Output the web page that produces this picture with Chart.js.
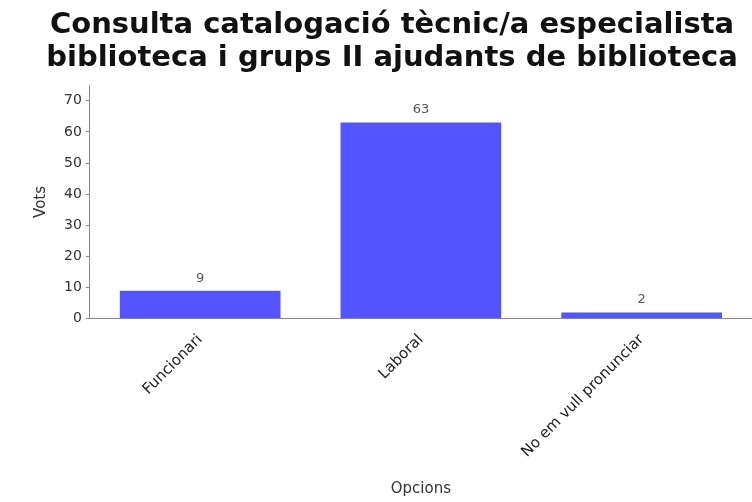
<!DOCTYPE html>
<html>
<head>
<meta charset="utf-8">
<script src="https://cdn.jsdelivr.net/npm/chart.js@4/dist/chart.umd.min.js"></script>
<style>
  html, body { margin: 0; padding: 0; background: #fff; }
  #wrap { width: 752px; height: 502px; }
</style>
</head>
<body>
<div id="wrap"><canvas id="votsChart" width="752" height="502"></canvas></div>
<script>
const titol = ["Consulta catalogació tècnic/a especialista", "biblioteca i grups II ajudants de biblioteca"];
const opcions = ["Funcionari", "Laboral", "No em vull pronunciar"];
const vots = [9, 63, 2];
const ticsY = [0, 10, 20, 30, 40, 50, 60, 70];

// etiqueta amb el valor damunt de cada barra
const valorsBarres = {
    id: "valorsBarres",
    afterDatasetsDraw(chart) {
        const ctx = chart.ctx;
        const meta = chart.getDatasetMeta(0);
        ctx.save();
        ctx.font = "13px 'DejaVu Sans'";
        ctx.fillStyle = "#555";
        ctx.textAlign = "center";
        ctx.textBaseline = "bottom";
        meta.data.forEach(function(bar, i) {
            ctx.fillText(vots[i], bar.x, bar.y - 6);
        });
        ctx.restore();
    }
};

const ctx = document.getElementById("votsChart").getContext("2d");
const chart = new Chart(ctx, {
    type: "bar",
    data: {
        labels: opcions,
        datasets: [{
            label: "Vots",
            data: vots,
            backgroundColor: "#5555ff",
            borderWidth: 0,
            barPercentage: 0.8,
            categoryPercentage: 0.91
        }]
    },
    options: {
        responsive: false,
        animation: false,
        layout: { padding: { left: 32, right: 0, top: 9, bottom: 4 } },
        plugins: {
            legend: { display: false },
            tooltip: { enabled: false },
            title: {
                display: true,
                text: titol,
                color: "#111",
                font: { family: "'DejaVu Sans'", size: 29, weight: "bold", lineHeight: 1.14 },
                padding: { top: 0, bottom: 10 }
            }
        },
        scales: {
            x: {
                grid: { display: false },
                border: { display: true, color: "#888" },
                ticks: {
                    color: "#222",
                    font: { family: "'DejaVu Sans'", size: 15 },
                    maxRotation: 45,
                    minRotation: 45,
                    padding: 4
                },
                title: {
                    display: true,
                    text: "Opcions",
                    color: "#333",
                    font: { family: "'DejaVu Sans'", size: 15 },
                    padding: { top: 15, bottom: 0 }
                }
            },
            y: {
                min: 0,
                max: 75,
                afterBuildTicks: function(axis) {
                    axis.ticks = ticsY.map(function(v) { return { value: v }; });
                },
                ticks: {
                    autoSkip: false,
                    color: "#333",
                    font: { family: "'DejaVu Sans'", size: 14 },
                    padding: 4
                },
                grid: { drawOnChartArea: false, tickLength: 4, color: "#888" },
                border: { display: true, color: "#888" },
                title: {
                    display: true,
                    text: "Vots",
                    color: "#333",
                    font: { family: "'DejaVu Sans'", size: 15 },
                    padding: { top: 0, bottom: 10 }
                }
            }
        }
    },
    plugins: [valorsBarres]
});
</script>
</body>
</html>
